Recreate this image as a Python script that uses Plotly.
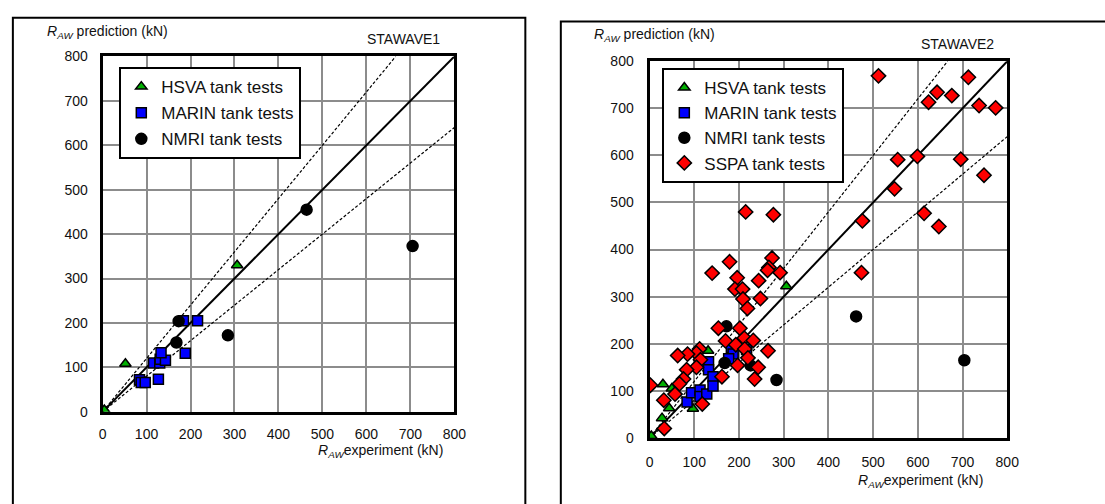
import plotly.graph_objects as go

# ---------------- data ----------------
# STAWAVE1 panel
hsva1_x = [4, 52, 306]
hsva1_y = [4, 108, 330]
marin1_x = [84, 88, 97, 127, 116, 130, 131, 143, 133, 188, 184, 216]
marin1_y = [72, 66, 66, 73, 110, 110, 118, 116, 133, 132, 205, 205]
nmri1_x = [173, 168, 285, 464, 705]
nmri1_y = [204, 156, 172, 455, 373]

# STAWAVE2 panel
hsva2_x = [4, 28, 44, 50, 30, 97, 131, 306]
hsva2_y = [4, 42, 63, 105, 114, 62, 185, 322]
marin2_x = [84, 94, 113, 113, 128, 132, 132, 142, 142, 183, 187, 177, 217]
marin2_y = [76, 96, 102, 88, 93, 162, 145, 130, 110, 192, 178, 168, 188]
nmri2_x = [172, 168, 226, 284, 462, 704]
nmri2_y = [237, 159, 154, 123, 258, 165]
sspa2_x = [512, 713, 643, 676, 624, 737, 774, 555, 599, 696, 748, 548, 614, 647, 476, 474,
           215, 277, 179, 140, 274, 267, 264, 292, 196, 244, 191, 208, 209, 248, 219,
           154, 202, 170, 193, 212, 232, 265, 213, 220, 197, 243, 235, 162,
           112, 105, 114, 105, 83, 85, 63, 76, 67, 57, 32, 33, 2, 118]
sspa2_y = [769, 766, 734, 727, 713, 706, 701, 591, 598, 592, 558, 529, 477, 449, 461, 351,
           480, 474, 374, 350, 382, 362, 356, 351, 340, 334, 316, 316, 295, 296, 275,
           233, 233, 206, 198, 212, 207, 185, 189, 170, 154, 150, 125, 130,
           189, 180, 166, 150, 145, 178, 175, 125, 115, 93, 80, 20, 112, 72]

# reference lines: prediction = slope * experiment
ref_slopes = [1.0, 1.2, 0.8]
ref_dash = ["solid", "dash", "dash"]
ax_max = 800
tick_vals = [0, 100, 200, 300, 400, 500, 600, 700, 800]

series_names = ["HSVA tank tests", "MARIN tank tests", "NMRI tank tests", "SSPA tank tests"]

FONT = "Arial, Liberation Sans, sans-serif"
W, H = 1105, 504

def px_x(p):
    return p / W

def px_y(p):
    return 1 - p / H

styles = {
    "HSVA tank tests": dict(symbol="triangle-up", color="#00B000", size=10),
    "MARIN tank tests": dict(symbol="square", color="#0000FF", size=10),
    "NMRI tank tests": dict(symbol="circle", color="#000000", size=11),
    "SSPA tank tests": dict(symbol="diamond", color="#FF0000", size=11),
}

fig = go.Figure()

def add_ref_lines(xa, ya):
    for s, d in zip(ref_slopes, ref_dash):
        xe = min(ax_max, ax_max / s)
        fig.add_trace(go.Scatter(
            x=[0, xe], y=[0, s * xe], mode="lines", xaxis=xa, yaxis=ya,
            line=dict(color="black", width=2 if d == "solid" else 1.2,
                      dash="solid" if d == "solid" else "3px,2px"),
            showlegend=False, hoverinfo="skip"))

def add_series(name, xs, ys, xa, ya, leg):
    st = styles[name]
    fig.add_trace(go.Scatter(
        x=xs, y=ys, mode="markers", name=name, xaxis=xa, yaxis=ya, legend=leg,
        legendgroup=name + leg,
        marker=dict(symbol=st["symbol"], color=st["color"], size=st["size"],
                    line=dict(color="black", width=1.5))))

add_ref_lines("x", "y")
add_series(series_names[0], hsva1_x, hsva1_y, "x", "y", "legend")
add_series(series_names[1], marin1_x, marin1_y, "x", "y", "legend")
add_series(series_names[2], nmri1_x, nmri1_y, "x", "y", "legend")

add_ref_lines("x2", "y2")
add_series(series_names[0], hsva2_x, hsva2_y, "x2", "y2", "legend2")
add_series(series_names[1], marin2_x, marin2_y, "x2", "y2", "legend2")
add_series(series_names[2], nmri2_x, nmri2_y, "x2", "y2", "legend2")
add_series(series_names[3], sspa2_x, sspa2_y, "x2", "y2", "legend2")

axis_common = dict(
    range=[0, ax_max], tickvals=tick_vals, showgrid=True, gridcolor="#8c8c8c", gridwidth=2,
    zeroline=False, showline=True, linecolor="black", linewidth=3, mirror=True,
    ticks="", tickfont=dict(family=FONT, size=14, color="#111"), fixedrange=True,
)

fig.update_layout(
    width=W, height=H, margin=dict(l=0, r=0, t=0, b=0),
    paper_bgcolor="white", plot_bgcolor="white",
    font=dict(family=FONT, color="#111"),
    xaxis=dict(domain=[px_x(100), px_x(457)], anchor="y", ticklabelstandoff=7, **axis_common),
    yaxis=dict(domain=[px_y(417), px_y(50)], anchor="x", ticklabelstandoff=9, **axis_common),
    xaxis2=dict(domain=[px_x(655), px_x(1018)], anchor="y2", ticklabelstandoff=9, **axis_common),
    yaxis2=dict(domain=[px_y(444), px_y(55)], anchor="x2", ticklabelstandoff=10, **axis_common),
    legend=dict(x=px_x(117), y=px_y(61), xanchor="left", yanchor="top",
                bgcolor="white", bordercolor="black", borderwidth=2,
                font=dict(family=FONT, size=17, color="#111"),
                traceorder="grouped", tracegroupgap=1, itemwidth=30),
    legend2=dict(x=px_x(668), y=px_y(62), xanchor="left", yanchor="top",
                 bgcolor="white", bordercolor="black", borderwidth=2,
                 font=dict(family=FONT, size=17, color="#111"),
                 traceorder="grouped", tracegroupgap=0, itemwidth=30),
    showlegend=True,
    hovermode=False,
)

# panel frames
fig.add_shape(type="rect", xref="paper", yref="paper",
              x0=px_x(9), x1=px_x(529), y0=px_y(530), y1=px_y(10),
              line=dict(color="black", width=2), layer="below")
fig.add_shape(type="rect", xref="paper", yref="paper",
              x0=px_x(565), x1=px_x(1130), y0=px_y(530), y1=px_y(14),
              line=dict(color="black", width=2), layer="below")

ylab = "<i>R</i><sub><i>AW</i></sub> prediction (kN)"
xlab = "<i>R</i><sub><i>AW</i></sub>experiment (kN)"
ann = [
    (42, 25, ylab, "left"),
    (597, 28, ylab, "left"),
    (447, 458, xlab, "right"),
    (995, 488, xlab, "right"),
    (444, 32, "STAWAVE1", "right"),
    (1007, 37, "STAWAVE2", "right"),
]
for x, y, t, xa in ann:
    fig.add_annotation(x=px_x(x), y=px_y(y), xref="paper", yref="paper", text=t,
                       showarrow=False, xanchor=xa, yanchor="middle",
                       font=dict(family=FONT, size=14, color="#111"))

fig.write_html(
    "out.html",
    config={"displayModeBar": False, "staticPlot": True},
    post_script="document.body.style.margin='0';document.body.style.overflow='hidden';",
)
